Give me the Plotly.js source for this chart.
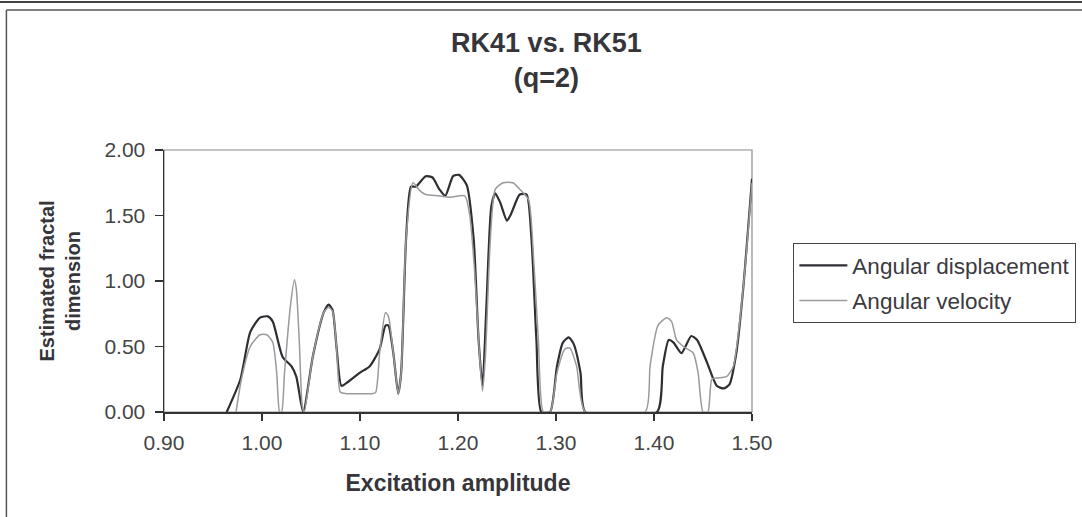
<!DOCTYPE html>
<html>
<head>
<meta charset="utf-8">
<script src="https://cdn.plot.ly/plotly-3.0.1.min.js"></script>
<style>
  html, body { margin: 0; padding: 0; background: #ffffff; }
  #chart { width: 1082px; height: 517px; }
</style>
</head>
<body>
<div id="chart"></div>
<script>
// Angular displacement (dark line)
const dispX = [0.964, 0.978, 0.988, 0.998, 1.006, 1.011, 1.021, 1.030, 1.035, 1.042, 1.052, 1.063, 1.068, 1.072, 1.076, 1.081, 1.086, 1.100, 1.110, 1.120, 1.126, 1.129, 1.134, 1.139, 1.142, 1.147, 1.152, 1.157, 1.167, 1.174, 1.181, 1.187, 1.195, 1.201, 1.209, 1.216, 1.221, 1.225, 1.229, 1.234, 1.238, 1.243, 1.250, 1.254, 1.263, 1.270, 1.275, 1.280, 1.285, 1.294, 1.301, 1.307, 1.313, 1.318, 1.325, 1.330, 1.403, 1.409, 1.415, 1.420, 1.428, 1.438, 1.444, 1.454, 1.464, 1.471, 1.477, 1.484, 1.491, 1.500];
const dispY = [0, 0.25, 0.61, 0.72, 0.73, 0.69, 0.42, 0.35, 0.27, 0.0, 0.43, 0.76, 0.82, 0.78, 0.50, 0.20, 0.22, 0.30, 0.35, 0.48, 0.66, 0.66, 0.45, 0.14, 0.30, 1.32, 1.72, 1.72, 1.80, 1.79, 1.70, 1.65, 1.80, 1.81, 1.73, 1.32, 0.55, 0.20, 0.81, 1.57, 1.67, 1.60, 1.46, 1.51, 1.66, 1.66, 1.32, 0.55, 0.0, 0.0, 0.35, 0.53, 0.57, 0.52, 0.30, 0.0, 0.0, 0.35, 0.55, 0.53, 0.45, 0.58, 0.55, 0.38, 0.20, 0.18, 0.21, 0.45, 0.94, 1.78];

// Angular velocity (light line)
const velX = [0.9735, 0.979, 0.988, 0.998, 1.005, 1.011, 1.015, 1.018, 1.020, 1.023, 1.029, 1.033, 1.035, 1.038, 1.041, 1.043, 1.052, 1.063, 1.068, 1.072, 1.076, 1.080, 1.086, 1.097, 1.112, 1.116, 1.120, 1.126, 1.129, 1.134, 1.139, 1.142, 1.147, 1.154, 1.161, 1.167, 1.180, 1.192, 1.207, 1.212, 1.217, 1.222, 1.225, 1.228, 1.233, 1.238, 1.246, 1.256, 1.263, 1.272, 1.277, 1.282, 1.287, 1.294, 1.301, 1.309, 1.314, 1.321, 1.330, 1.391, 1.396, 1.404, 1.413, 1.418, 1.423, 1.430, 1.440, 1.445, 1.450, 1.455, 1.459, 1.464, 1.474, 1.481, 1.487, 1.494, 1.500];
const velY = [0, 0.25, 0.50, 0.59, 0.59, 0.53, 0.30, 0.0, 0.0, 0.30, 0.81, 1.01, 0.94, 0.55, 0.05, 0.0, 0.43, 0.76, 0.80, 0.77, 0.50, 0.15, 0.14, 0.14, 0.14, 0.15, 0.45, 0.76, 0.73, 0.45, 0.14, 0.30, 1.32, 1.75, 1.69, 1.66, 1.65, 1.64, 1.65, 1.50, 1.07, 0.43, 0.16, 0.43, 1.32, 1.70, 1.75, 1.75, 1.70, 1.62, 1.19, 0.55, 0.0, 0.0, 0.30, 0.48, 0.49, 0.35, 0.0, 0.0, 0.35, 0.66, 0.72, 0.69, 0.55, 0.50, 0.45, 0.30, 0.0, 0.0, 0.25, 0.26, 0.27, 0.35, 0.66, 1.19, 1.75];

const xTickVals = [0.90, 1.00, 1.10, 1.20, 1.30, 1.40, 1.50];
const yTickVals = [0.00, 0.50, 1.00, 1.50, 2.00];

const FONT = '"Liberation Sans", Arial, sans-serif';

const traces = [
  {
    x: dispX, y: dispY, type: 'scatter', mode: 'lines',
    name: 'Angular displacement', legendgroup: 'a',
    line: { color: '#2e2e33', width: 2.2, shape: 'spline', smoothing: 0.6 }
  },
  {
    x: velX, y: velY, type: 'scatter', mode: 'lines',
    name: 'Angular velocity', legendgroup: 'b',
    line: { color: '#9a9a9e', width: 1.5, shape: 'spline', smoothing: 0.6 }
  }
];

const layout = {
  width: 1082, height: 517,
  paper_bgcolor: '#ffffff', plot_bgcolor: '#ffffff',
  margin: { l: 164, r: 330, t: 150, b: 105, autoexpand: false },
  font: { family: FONT, color: '#3a3a40' },
  title: {
    text: '<b>RK41 vs. RK51</b><br><b>(q=2)</b>',
    x: 0.505, xref: 'container', xanchor: 'center',
    y: 0.90, yref: 'container', yanchor: 'top',
    font: { family: FONT, size: 27, color: '#35353a' }
  },
  xaxis: {
    range: [0.90, 1.50],
    tickvals: xTickVals,
    ticktext: xTickVals.map(v => v.toFixed(2)),
    ticks: 'outside', ticklen: 7, tickcolor: '#333', tickwidth: 1.5,
    showline: true, linecolor: '#333', linewidth: 1.5,
    showgrid: false, zeroline: false, automargin: false,
    ticklabelstandoff: 4,
    tickfont: { family: FONT, size: 21, color: '#444' },
    title: { text: '<b>Excitation amplitude</b>', font: { family: FONT, size: 23, color: '#35353a' }, standoff: 22 }
  },
  yaxis: {
    range: [0, 2.0],
    tickvals: yTickVals,
    ticktext: yTickVals.map(v => v.toFixed(2)),
    ticks: 'outside', ticklen: 8, tickcolor: '#333', tickwidth: 1.5,
    showline: true, linecolor: '#333', linewidth: 1.5,
    showgrid: false, zeroline: false, automargin: false,
    ticklabelstandoff: 5,
    tickfont: { family: FONT, size: 21, color: '#444' },
    title: { text: '<b>Estimated fractal<br>dimension</b>', font: { family: FONT, size: 20, color: '#35353a' }, standoff: 18 }
  },
  showlegend: true,
  legend: {
    x: 1.07, xanchor: 'left', y: 0.645, yanchor: 'top',
    bgcolor: '#ffffff', bordercolor: '#444', borderwidth: 1.2,
    font: { family: FONT, size: 22.5, color: '#3a3a40' },
    itemwidth: 48,
    tracegroupgap: 3
  },
  shapes: [
    { type: 'rect', xref: 'paper', yref: 'paper', x0: 0, x1: 1, y0: 0, y1: 1,
      line: { color: '#8a8a8a', width: 1.2 }, layer: 'below' },
    { type: 'line', xref: 'paper', yref: 'paper', x0: -0.3, x1: 1.6, y0: 1.565, y1: 1.565,
      line: { color: '#444', width: 2 } },
    { type: 'line', xref: 'paper', yref: 'paper', x0: -0.268, x1: 1.6, y0: 1.534, y1: 1.534,
      line: { color: '#555', width: 1.5 } },
    { type: 'line', xref: 'paper', yref: 'paper', x0: -0.268, x1: -0.268, y0: 1.534, y1: -0.45,
      line: { color: '#555', width: 1.5 } }
  ]
};

Plotly.newPlot('chart', traces, layout, { displayModeBar: false, staticPlot: true });
</script>
</body>
</html>
